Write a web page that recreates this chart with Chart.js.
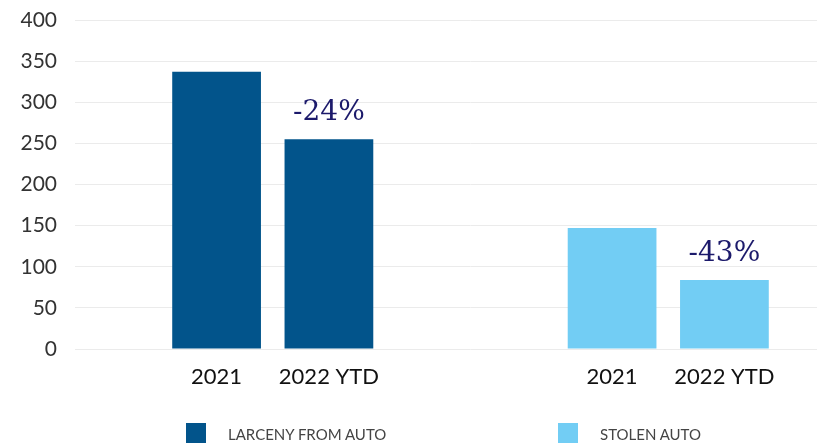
<!DOCTYPE html>
<html>
<head>
<meta charset="utf-8">
<script src="https://cdn.jsdelivr.net/npm/chart.js@4.4.1/dist/chart.umd.min.js"></script>
<style>
  html, body { margin: 0; padding: 0; background: #fff; overflow: hidden; }
  #wrap { position: relative; width: 866px; height: 443px; }
  #legend { position: absolute; left: 0; top: 423px; width: 866px; height: 20px; font-family: Lato, sans-serif; font-size: 15px; color: #444; }
  .item { position: absolute; top: 0; height: 20px; }
  .box { position: absolute; left: 0; top: 0; width: 20px; height: 24px; }
  .txt { position: absolute; left: 42px; top: 2px; white-space: nowrap; }
</style>
</head>
<body>
<div id="wrap">
  <canvas id="chart" width="866" height="443"></canvas>
  <div id="legend"></div>
</div>
<script>
// data
const crimeTypes = ['LARCENY FROM AUTO', 'STOLEN AUTO'];
const years = ['2021', '2022 YTD'];
const larceny = [337, 255];
const stolen = [147, 84];
const yTicks = [0, 50, 100, 150, 200, 250, 300, 350, 400];

const colors = ['#02548b', '#72cdf4'];
const legendLeft = [186, 558];

const series = [larceny, stolen];

// one dataset per year, categories are the crime types
const datasets = years.map((y, i) => ({
  label: y,
  data: series.map(s => s[i]),
  backgroundColor: colors,
  borderWidth: 0,
  categoryPercentage: 0.568,
  barPercentage: 0.79,
}));

// year labels under each bar + change % over the 2022 bar
const barText = {
  id: 'barText',
  afterDatasetsDraw(chart) {
    const ctx = chart.ctx;
    ctx.save();
    ctx.textAlign = 'center';
    chart.data.datasets.forEach((ds, di) => {
      const meta = chart.getDatasetMeta(di);
      meta.data.forEach((bar, ci) => {
        ctx.fillStyle = '#111';
        ctx.font = '22px Lato';
        ctx.textBaseline = 'middle';
        ctx.fillText(years[di], bar.x, 377);
        if (di === years.length - 1) {
          const s = series[ci];
          const pct = Math.round((s[di] - s[0]) / s[0] * 100);
          ctx.fillStyle = '#1c1a6b';
          ctx.font = '28px "DejaVu Serif"';
          ctx.textBaseline = 'alphabetic';
          ctx.fillText(pct + '%', bar.x, bar.y - 19);
        }
      });
    });
    ctx.restore();
  }
};

new Chart(document.getElementById('chart'), {
  type: 'bar',
  data: { labels: crimeTypes, datasets: datasets },
  plugins: [barText],
  options: {
    responsive: false,
    animation: false,
    layout: { padding: { top: 20, bottom: 94, right: 0, left: 0 } },
    plugins: { legend: { display: false }, tooltip: { enabled: false } },
    scales: {
      x: { display: false },
      y: {
        min: 0,
        max: 400,
        afterBuildTicks(scale) { scale.ticks = yTicks.map(v => ({ value: v })); },
        afterFit(scale) {
          scale.width = 75;
          scale.paddingTop = 0;
          scale.paddingBottom = 0;
        },
        border: { display: false },
        grid: { color: '#ebebeb', drawTicks: false },
        ticks: { padding: 18, color: '#333', font: { family: 'Lato', size: 21 } },
      },
    },
  },
});

// html legend
const legend = document.getElementById('legend');
crimeTypes.forEach((name, i) => {
  const it = document.createElement('div');
  it.className = 'item';
  it.style.left = legendLeft[i] + 'px';
  it.innerHTML = '<div class="box" style="background:' + colors[i] + '"></div><div class="txt">' + name + '</div>';
  legend.appendChild(it);
});
</script>
</body>
</html>
